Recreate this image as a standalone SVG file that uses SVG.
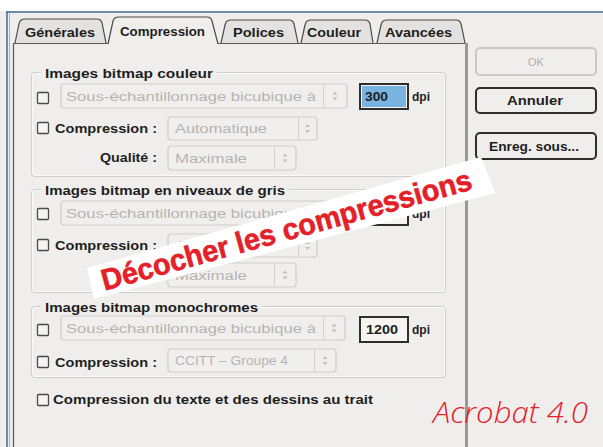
<svg xmlns="http://www.w3.org/2000/svg" width="603" height="447" viewBox="0 0 603 447">
<style>
.ui{font-family:"Liberation Sans",Arial,sans-serif;font-weight:bold;font-size:12px;fill:#1e1e1e}
.dis{font-family:"Liberation Sans",Arial,sans-serif;font-size:12px;fill:#b6b4b2}
.tab{fill:#e4e2e0;stroke:#4a4a4a;stroke-width:1.2}
.dd{fill:#f1efed;stroke:#cfcdcb;stroke-width:1.2}
.div{stroke:#d2d0ce;stroke-width:1}
.cb{fill:#f6f4f2;stroke:#4a4a4a;stroke-width:1.3}
.frame{fill:none;stroke:#d0cecc;stroke-width:1}
.frame2{fill:none;stroke:#fbfaf9;stroke-width:1}
.field{fill:#f6f4f2;stroke:#2e2e2e;stroke-width:2}
.btn{fill:#f0eeec;stroke:#2e2e2e;stroke-width:2}
.red{fill:#e42028}
</style>
<defs>
<g id="arr"><path d="M-2.5,-1.5 L0,-4.5 L2.5,-1.5 Z M-2.5,1.5 L0,4.5 L2.5,1.5 Z" fill="#c2c0be"/></g>
</defs>
<rect x="0" y="0" width="603" height="447" fill="#f0eeec"/>
<rect x="0" y="0" width="603" height="11" fill="#ffffff"/>
<g id="window-frame">
<line x1="6" y1="12" x2="603" y2="12" stroke="#3d6d92" stroke-width="1.5"/>
<line x1="7" y1="12" x2="7" y2="447" stroke="#3d6d92" stroke-width="1.5"/>
<line x1="9.5" y1="13" x2="9.5" y2="447" stroke="#9fb4c6" stroke-width="1"/>
</g>
<g id="tabs">
<path class="tab" d="M15,43 L19,24 Q20,19 25,19 L97,19 Q101,19 102,23 L106,43"/>
<text class="ui" x="25" y="37" textLength="70" lengthAdjust="spacingAndGlyphs">Générales</text>
<path class="tab" d="M221,43 L225,25 Q226,20 231,20 L289,20 Q293,20 294,24 L298,43"/>
<text class="ui" x="233" y="37" textLength="51" lengthAdjust="spacingAndGlyphs">Polices</text>
<path class="tab" d="M301,43 L305,25 Q306,20 311,20 L365,20 Q369,20 370,24 L373,43"/>
<text class="ui" x="307" y="37" textLength="54" lengthAdjust="spacingAndGlyphs">Couleur</text>
<path class="tab" d="M377,43 L381,25 Q382,20 387,20 L456,20 Q460,20 461,24 L465,43"/>
<text class="ui" x="385" y="37" textLength="67" lengthAdjust="spacingAndGlyphs">Avancées</text>
</g>
<g id="panel">
<path d="M13.5,447 L13.5,43.5 L108,43.5 M218,43.5 L466,43.5" fill="none" stroke="#5a5a5a" stroke-width="1.2"/>
<rect x="465" y="43" width="3" height="404" fill="#9a9896"/>
<path d="M108,44 L113,21 Q114,17 119,17 L207,17 Q211,17 212,21 L218,44" fill="#f0eeec" stroke="#4a4a4a" stroke-width="1.2"/>
<text class="ui" x="120" y="36" textLength="85" lengthAdjust="spacingAndGlyphs">Compression</text>
</g>
<g id="group-couleur">
<rect class="frame" x="31.5" y="72.5" width="414" height="104" rx="3"/>
<rect class="frame2" x="32.5" y="73.5" width="412" height="102" rx="3"/>
<rect x="41" y="66" width="176" height="14" fill="#f0eeec"/>
<text class="ui" x="45" y="78" textLength="168" lengthAdjust="spacingAndGlyphs">Images bitmap couleur</text>
<rect class="cb" x="37.5" y="92.5" width="11" height="11" rx="1"/>
<rect class="dd" x="61" y="84" width="286" height="24" rx="3"/>
<line class="div" x1="323.5" y1="85" x2="323.5" y2="107"/>
<use href="#arr" x="335" y="96"/>
<text class="dis" x="66" y="101" textLength="250" lengthAdjust="spacingAndGlyphs">Sous-échantillonnage bicubique à</text>
<rect class="field" x="360" y="84" width="48" height="25"/>
<rect x="362" y="86" width="44" height="21" fill="#79b3e0"/>
<text class="ui" x="365" y="101" textLength="23" lengthAdjust="spacingAndGlyphs">300</text>
<text class="ui" x="412" y="101" textLength="18" lengthAdjust="spacingAndGlyphs">dpi</text>
<rect class="cb" x="37.5" y="122.5" width="11" height="11" rx="1"/>
<text class="ui" x="55" y="133" textLength="102" lengthAdjust="spacingAndGlyphs">Compression :</text>
<rect class="dd" x="168" y="117" width="149" height="23" rx="3"/>
<line class="div" x1="298.5" y1="118" x2="298.5" y2="139"/>
<use href="#arr" x="307.5" y="128.5"/>
<text class="dis" x="175" y="133" textLength="92" lengthAdjust="spacingAndGlyphs">Automatique</text>
<text class="ui" x="100" y="162" textLength="57" lengthAdjust="spacingAndGlyphs">Qualité :</text>
<rect class="dd" x="168" y="146" width="128" height="24" rx="3"/>
<line class="div" x1="274.5" y1="147" x2="274.5" y2="169"/>
<use href="#arr" x="285" y="158"/>
<text class="dis" x="175" y="163" textLength="72" lengthAdjust="spacingAndGlyphs">Maximale</text>
</g>
<g id="group-gris">
<rect class="frame" x="31.5" y="189.5" width="414" height="103" rx="3"/>
<rect class="frame2" x="32.5" y="190.5" width="412" height="101" rx="3"/>
<rect x="41" y="183" width="248" height="14" fill="#f0eeec"/>
<text class="ui" x="45" y="195" textLength="240" lengthAdjust="spacingAndGlyphs">Images bitmap en niveaux de gris</text>
<rect class="cb" x="37.5" y="208.5" width="11" height="11" rx="1"/>
<rect class="dd" x="61" y="201" width="286" height="24" rx="3"/>
<line class="div" x1="323.5" y1="202" x2="323.5" y2="224"/>
<use href="#arr" x="335" y="213"/>
<text class="dis" x="66" y="218" textLength="250" lengthAdjust="spacingAndGlyphs">Sous-échantillonnage bicubique à</text>
<rect class="field" x="360" y="201" width="48" height="24"/>
<text class="ui" x="412" y="218" textLength="18" lengthAdjust="spacingAndGlyphs">dpi</text>
<rect class="cb" x="37.5" y="239.5" width="11" height="11" rx="1"/>
<text class="ui" x="55" y="250" textLength="102" lengthAdjust="spacingAndGlyphs">Compression :</text>
<rect class="dd" x="168" y="234" width="149" height="23" rx="3"/>
<line class="div" x1="298.5" y1="235" x2="298.5" y2="256"/>
<use href="#arr" x="307.5" y="245.5"/>
<text class="dis" x="175" y="250" textLength="92" lengthAdjust="spacingAndGlyphs">Automatique</text>
<rect class="dd" x="168" y="263" width="128" height="24" rx="3"/>
<line class="div" x1="274.5" y1="264" x2="274.5" y2="286"/>
<use href="#arr" x="285" y="275"/>
<text class="dis" x="175" y="280" textLength="72" lengthAdjust="spacingAndGlyphs">Maximale</text>
</g>
<g id="group-mono">
<rect class="frame" x="31.5" y="306.5" width="414" height="71" rx="3"/>
<rect class="frame2" x="32.5" y="307.5" width="412" height="69" rx="3"/>
<rect x="41" y="300" width="221" height="14" fill="#f0eeec"/>
<text class="ui" x="45" y="312" textLength="213" lengthAdjust="spacingAndGlyphs">Images bitmap monochromes</text>
<rect class="cb" x="37.5" y="324.5" width="11" height="11" rx="1"/>
<rect class="dd" x="61" y="316" width="284" height="24" rx="3"/>
<line class="div" x1="323.5" y1="317" x2="323.5" y2="339"/>
<use href="#arr" x="334" y="328"/>
<text class="dis" x="66" y="333" textLength="250" lengthAdjust="spacingAndGlyphs">Sous-échantillonnage bicubique à</text>
<rect class="field" x="360" y="317" width="48" height="25"/>
<text class="ui" x="366" y="334" textLength="32" lengthAdjust="spacingAndGlyphs">1200</text>
<text class="ui" x="412" y="334" textLength="18" lengthAdjust="spacingAndGlyphs">dpi</text>
<rect class="cb" x="37.5" y="356.5" width="11" height="11" rx="1"/>
<text class="ui" x="55" y="367" textLength="102" lengthAdjust="spacingAndGlyphs">Compression :</text>
<rect class="dd" x="168" y="349" width="168" height="23" rx="3"/>
<line class="div" x1="314.5" y1="350" x2="314.5" y2="371"/>
<use href="#arr" x="325" y="360.5"/>
<text class="dis" x="175" y="365" textLength="113" lengthAdjust="spacingAndGlyphs">CCITT – Groupe 4</text>
</g>
<g id="option-trait">
<rect class="cb" x="37.5" y="394.5" width="11" height="11" rx="1"/>
<text class="ui" x="53" y="404" textLength="320" lengthAdjust="spacingAndGlyphs">Compression du texte et des dessins au trait</text>
</g>
<g id="btn-ok">
<rect x="476" y="48" width="120" height="27" rx="4" fill="#f0eeec" stroke="#cac8c6" stroke-width="2"/>
<text x="536" y="66" text-anchor="middle" font-family="Liberation Sans, Arial, sans-serif" font-size="11" fill="#b0aeac">OK</text>
</g>
<g id="btn-annuler">
<rect class="btn" x="476" y="88" width="120" height="25" rx="4"/>
<text class="ui" x="507" y="105" textLength="56" lengthAdjust="spacingAndGlyphs">Annuler</text>
</g>
<g id="btn-enreg">
<rect class="btn" x="476" y="133" width="120" height="26" rx="4"/>
<text class="ui" x="489" y="151" textLength="90" lengthAdjust="spacingAndGlyphs">Enreg. sous...</text>
</g>
<g id="banner">
<polygon points="87,268 481,157 495,193 94,299" fill="#ffffff"/>
<g transform="translate(291,230) rotate(-15.4)">
<text class="red" x="-196" y="9" font-family="Liberation Sans, Arial, sans-serif" font-weight="bold" font-size="30" stroke="#e42028" stroke-width="0.6" textLength="383" lengthAdjust="spacingAndGlyphs">Décocher les compressions</text>
</g>
</g>
<g id="caption">
<text class="red" x="433" y="423" font-family="Open Sans, Liberation Sans, sans-serif" font-style="italic" font-weight="300" font-size="29" textLength="155" lengthAdjust="spacingAndGlyphs">Acrobat 4.0</text>
</g>
</svg>
